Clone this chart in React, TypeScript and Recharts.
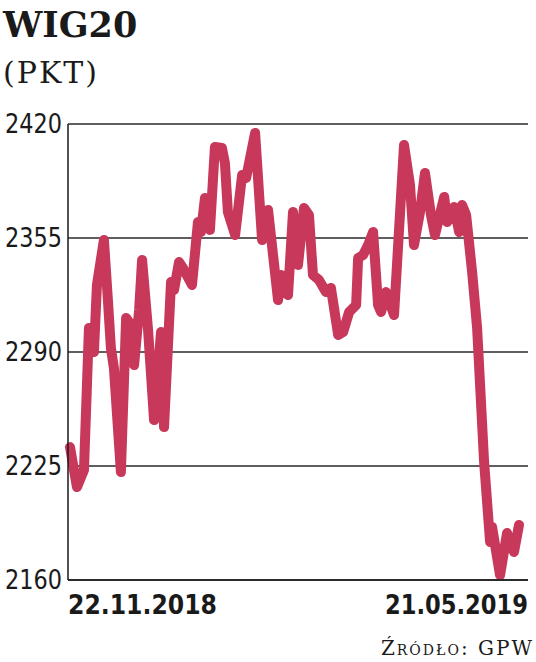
import React from "react";
import { LineChart, Line, XAxis, YAxis, CartesianGrid } from "recharts";

// calendar days counted from 22.11.2018
const days = [
  0, 2.8, 5.6, 7.6, 9.6, 10.8, 13.6, 15.2, 16.4, 17.6, 20.4, 22.5, 24.5, 25.7, 27.7, 28.9,
  31.3, 33.7, 36.5, 37.7, 40.5, 41.7, 43.7, 45.3, 48.9, 51.3, 52.5, 54.1, 56.1, 58.1, 60.9,
  62.1, 63.3, 66.2, 69, 70.6, 74.2, 77, 79.4, 83.4, 84.6, 87.4, 89.4, 91.4, 93.8, 95.8,
  97.4, 99.8, 102.6, 104.6, 107.5, 109.5, 111.9, 114.7, 115.5, 117.5, 119.5, 121.5, 123.5,
  124.7, 126.7, 129.9, 133.9, 136.3, 137.9, 140.3, 142.3, 144.7, 146.3, 150, 151.2, 154,
  156, 157.2, 158.8, 161.2, 163.2, 166, 168.4, 169.2, 172.4, 175.2, 178, 180,
];

const wig20 = [
  2235.8, 2213, 2222.7, 2303.7, 2290, 2328.2, 2353.9, 2319.6, 2292.3, 2280.9, 2221.6, 2309.4,
  2305.4, 2282.6, 2313.9, 2342.5, 2302.5, 2251.2, 2301.4, 2247.2, 2329.9, 2325.3, 2341.3,
  2337.9, 2328.2, 2364.1, 2358.4, 2377.8, 2359.6, 2406.9, 2406.3, 2397.8, 2369.8, 2356.7,
  2390.9, 2389.2, 2414.9, 2353.9, 2371, 2319.6, 2333.9, 2322.5, 2369.8, 2339.6, 2372.1,
  2368.1, 2333.9, 2331.1, 2324.2, 2326.5, 2299.7, 2301.4, 2312.8, 2316.8, 2343.6, 2345.3,
  2351, 2358.4, 2316.8, 2312.8, 2324.2, 2311.1, 2408, 2385.2, 2351, 2369.8, 2392.1, 2368.1,
  2356.7, 2378.4, 2364.1, 2372.7, 2358.4, 2373.8, 2368.1, 2335.6, 2303.7, 2227.3, 2181.7,
  2190.2, 2162.8, 2186.8, 2176, 2191.4,
];

const yTicks = [2160, 2225, 2290, 2355, 2420];
const xDomain = [-0.8, 183.6];
const xTickLabels = ["22.11.2018", "21.05.2019"];
const xLabelWidths = [149, 143];

const data = days.map((d, i) => ({ day: d, value: wig20[i] }));

const condensed = "'DejaVu Sans Condensed', 'Liberation Sans Narrow', sans-serif";

const XTick = (props: any) => {
  const { x, y, index } = props;
  const w = xLabelWidths[index];
  return (
    <text
      x={index === 0 ? x : x - w}
      y={y + 34}
      textAnchor="start"
      fontFamily={condensed}
      fontWeight={700}
      fontSize={26}
      textLength={w}
      lengthAdjust="spacingAndGlyphs"
      fill="#1a1a1a"
    >
      {xTickLabels[index]}
    </text>
  );
};

const YTick = (props: any) => {
  const { x, y, payload } = props;
  return (
    <text
      x={x - 57}
      y={y + 9}
      textAnchor="start"
      fontFamily={condensed}
      fontWeight={300}
      fontSize={27}
      textLength={57}
      lengthAdjust="spacingAndGlyphs"
      fill="#1a1a1a"
    >
      {payload.value}
    </text>
  );
};

export default function App() {
  return (
    <div style={{ position: "absolute", left: 0, top: 0, width: 536, height: 662, background: "#fff" }}>
      <LineChart width={536} height={662} data={data} margin={{ top: 124, right: 8, bottom: 0, left: 0 }}>
        <CartesianGrid vertical={false} stroke="#2a2a2a" strokeWidth={1.5} />
        <XAxis
          type="number"
          dataKey="day"
          domain={xDomain}
          ticks={xDomain}
          interval={0}
          height={82}
          axisLine={{ stroke: "#1a1a1a", strokeWidth: 1.5 }}
          tickLine={false}
          tickSize={0}
          tickMargin={0}
          tick={<XTick />}
        />
        <YAxis
          domain={[2160, 2420]}
          ticks={yTicks}
          interval={0}
          width={68}
          axisLine={{ stroke: "#1a1a1a", strokeWidth: 1.5 }}
          tickLine={false}
          tickSize={0}
          tickMargin={6}
          tick={<YTick />}
        />
        <Line
          type="linear"
          dataKey="value"
          stroke="#c7385b"
          strokeWidth={10}
          strokeLinejoin="round"
          strokeLinecap="round"
          dot={false}
          isAnimationActive={false}
        />
      </LineChart>
      <svg width={536} height={662} style={{ position: "absolute", left: 0, top: 0, pointerEvents: "none" }}>
        <text x={3} y={37} fontFamily="'DejaVu Serif', serif" fontWeight={700} fontSize={35} fill="#1a1a1a">
          WIG20
        </text>
        <text x={3} y={83} fontFamily="'DejaVu Serif', serif" fontSize={30} letterSpacing={2} fill="#1a1a1a">
          (PKT)
        </text>
        <text
          x={534}
          y={655}
          textAnchor="end"
          fontFamily="'DejaVu Serif', serif"
          fontSize={20}
          letterSpacing={2}
          style={{ fontVariant: "small-caps" }}
          fill="#1a1a1a"
        >
          Źródło: GPW
        </text>
      </svg>
    </div>
  );
}
